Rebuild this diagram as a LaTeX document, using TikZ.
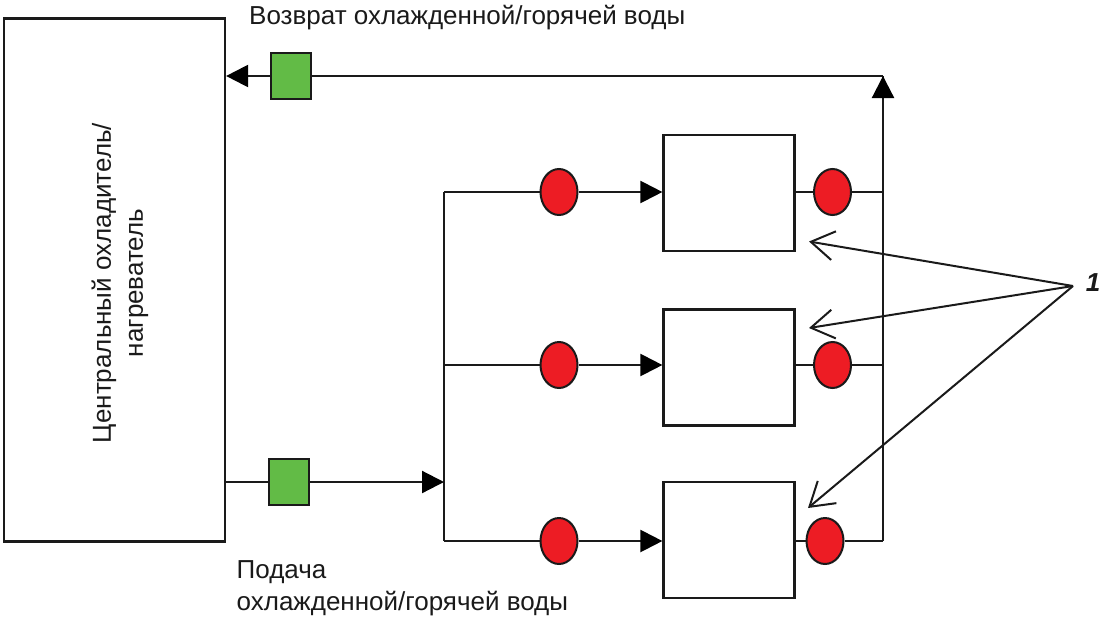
\documentclass[tikz,border=0pt]{standalone}
\usepackage{fontspec}
\usepackage{xcolor}
\setmainfont{Liberation Sans}
\usetikzlibrary{arrows.meta,shapes.geometric}

\definecolor{valvered}{HTML}{ED1C24}
\definecolor{pumpgreen}{HTML}{62BB46}
\definecolor{inkdark}{HTML}{1A1A1A}

\tikzset{
  pipe/.style={line width=2.2pt,draw=inkdark,line join=round},
  flow/.style={pipe,-{Triangle[length=22pt,width=22pt,color=black]}},
  pointer/.style={line width=2pt,draw=inkdark,-{Straight Barb[length=23pt,width=29pt,line width=2pt]}},
  unitbox/.style={draw=inkdark,line width=2.2pt,minimum width=131pt,minimum height=116pt,inner sep=0pt},
  valve/.style={draw=inkdark,line width=2pt,fill=valvered,ellipse,minimum width=37pt,minimum height=46pt,inner sep=0pt},
  pump/.style={draw=inkdark,line width=2.2pt,fill=pumpgreen,minimum width=40pt,minimum height=46pt,inner sep=0pt},
  caption/.style={text=inkdark,font=\fontsize{26}{32}\selectfont,inner sep=0pt}
}

\begin{document}
\begin{tikzpicture}[x=1pt,y=-1pt]
      \useasboundingbox (0,0) rectangle (1102,616);

      \node[unitbox,name=chiller,minimum width=221pt,minimum height=523pt] at (114.5,280) {};
      \node[caption,name=chillertext,rotate=90,align=center] at (120,283) {Центральный охладитель/\\нагреватель};

      \node[pump,name=pumpret] at (291,76) {};
      \node[pump,name=pumpsup] at (289,482) {};

      \node[unitbox,name=boxa] at (729,193) {};
      \node[unitbox,name=boxb] at (729,367.5) {};
      \node[unitbox,name=boxc] at (729,540) {};

      \node[valve,name=ina] at (559,192) {};
      \node[valve,name=inb] at (559,365) {};
      \node[valve,name=inc] at (559,541) {};
      \node[valve,name=outa] at (832.5,192) {};
      \node[valve,name=outb] at (832.5,365) {};
      \node[valve,name=outc] at (825,541) {};

      \coordinate (corner) at (883,76);
      \coordinate (retbase) at (883,99);
      \coordinate (retbot) at (883,541);
      \coordinate (suptop) at (444,192);
      \coordinate (supmid) at (444,482);
      \coordinate (supbot) at (444,541);
      \coordinate (hub) at (1073,286);
      \coordinate (tipa) at (809,241.5);
      \coordinate (tipb) at (809,328);
      \coordinate (tipc) at (808,508);

      \node[caption,name=rettext,anchor=base west] at (249,24) {Возврат охлажденной/горячей воды};
      \node[caption,name=suptext,anchor=base west] at (236.5,578) {Подача};
      \node[caption,name=suptexttwo,anchor=base west] at (236.5,610) {охлажденной/горячей воды};
      \node[caption,name=mark,font=\fontsize{26}{30}\selectfont\bfseries\itshape] at (1093,283) {1};

      % return side
      \path
         (retbot) edge[pipe] (corner)
         (corner) edge[pipe] (pumpret)
         (outa) edge[pipe] (outa -| corner)
         (outb) edge[pipe] (outb -| corner)
         (outc) edge[pipe] (retbot)
         (outa) edge[pipe] (outa -| boxa.east)
         (outb) edge[pipe] (outb -| boxb.east)
         (outc) edge[pipe] (outc -| boxc.east)
         (pumpret) edge[flow] (pumpret.west -| chiller.east)
         (retbase) edge[flow] (corner);

      % supply side
      \path
         (chiller.east |- pumpsup) edge[pipe] (pumpsup)
         (suptop) edge[pipe] (supbot)
         (suptop) edge[pipe] (ina)
         (supmid |- inb) edge[pipe] (inb)
         (supbot) edge[pipe] (inc)
         (pumpsup) edge[flow] (supmid)
         (ina) edge[flow] (ina -| boxa.west)
         (inb) edge[flow] (inb -| boxb.west)
         (inc) edge[flow] (inc -| boxc.west);

      \path
         (hub) edge[pointer] (tipa)
         (hub) edge[pointer] (tipb)
         (hub) edge[pointer] (tipc);
   \end{tikzpicture}
\end{document}
